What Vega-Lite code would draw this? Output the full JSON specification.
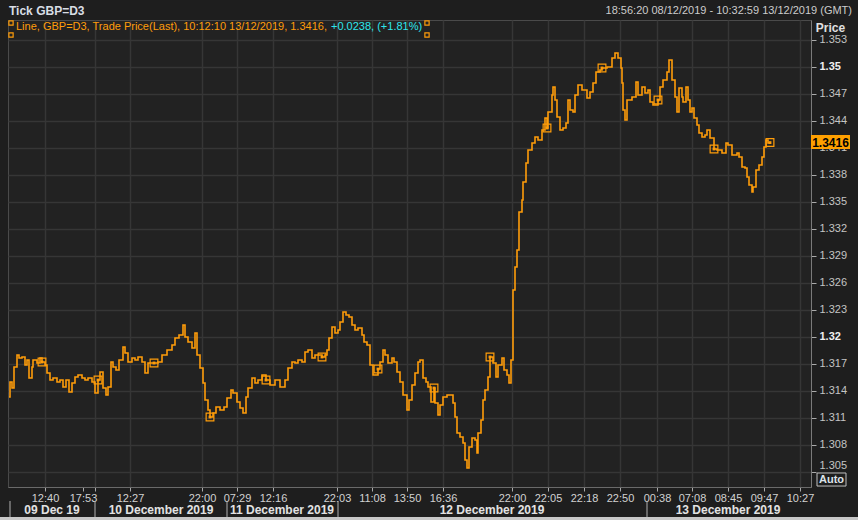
{
  "$schema": "https://vega.github.io/schema/vega-lite/v6.json",
  "width": 803,
  "height": 467,
  "autosize": "none",
  "padding": {"left": 8, "top": 20, "right": 47, "bottom": 33},
  "background": "#1e1e1e",
  "config": {
    "view": {"fill": "#222222", "stroke": "#4a4a4a"},
    "font": "Liberation Sans"
  },
  "datasets": {
    "series": [
      {"x":1,"y":1.31333},{"x":2,"y":1.315},{"x":4,"y":1.31433},{"x":6,"y":1.31667},{"x":9,"y":1.318},{"x":11,"y":1.31767},{"x":14,"y":1.31778},{"x":17,"y":1.31689},{"x":19,"y":1.31744},{"x":21,"y":1.31544},{"x":24,"y":1.31667},{"x":25,"y":1.31744},{"x":29,"y":1.31711},{"x":32,"y":1.31767},{"x":34,"y":1.31722},{"x":37,"y":1.31689},{"x":39,"y":1.316},{"x":42,"y":1.31522},{"x":45,"y":1.31544},{"x":49,"y":1.315},{"x":52,"y":1.31522},{"x":55,"y":1.31444},{"x":58,"y":1.31522},{"x":61,"y":1.31389},{"x":64,"y":1.31489},{"x":67,"y":1.31556},{"x":70,"y":1.31578},{"x":74,"y":1.31544},{"x":77,"y":1.31522},{"x":80,"y":1.31544},{"x":84,"y":1.315},{"x":87,"y":1.31378},{"x":90,"y":1.31522},{"x":92,"y":1.31611},{"x":95,"y":1.31433},{"x":98,"y":1.31356},{"x":100,"y":1.31444},{"x":103,"y":1.31722},{"x":105,"y":1.31667},{"x":108,"y":1.31633},{"x":111,"y":1.31744},{"x":115,"y":1.31889},{"x":117,"y":1.31822},{"x":120,"y":1.31722},{"x":124,"y":1.31767},{"x":127,"y":1.31744},{"x":130,"y":1.31778},{"x":134,"y":1.31722},{"x":137,"y":1.316},{"x":140,"y":1.31711},{"x":146,"y":1.31711},{"x":150,"y":1.31722},{"x":154,"y":1.318},{"x":159,"y":1.31856},{"x":164,"y":1.31911},{"x":167,"y":1.31989},{"x":171,"y":1.32022},{"x":175,"y":1.32133},{"x":177,"y":1.32},{"x":180,"y":1.31944},{"x":184,"y":1.31878},{"x":187,"y":1.32044},{"x":189,"y":1.318},{"x":192,"y":1.31656},{"x":195,"y":1.31489},{"x":197,"y":1.313},{"x":200,"y":1.31189},{"x":202,"y":1.31111},{"x":205,"y":1.31156},{"x":208,"y":1.31222},{"x":212,"y":1.31189},{"x":216,"y":1.31222},{"x":219,"y":1.31322},{"x":223,"y":1.31411},{"x":225,"y":1.31378},{"x":229,"y":1.31278},{"x":232,"y":1.31211},{"x":235,"y":1.31156},{"x":238,"y":1.31333},{"x":240,"y":1.31433},{"x":244,"y":1.31544},{"x":247,"y":1.31489},{"x":250,"y":1.31522},{"x":254,"y":1.31578},{"x":258,"y":1.31522},{"x":262,"y":1.31467},{"x":267,"y":1.31522},{"x":272,"y":1.31444},{"x":277,"y":1.31522},{"x":280,"y":1.31656},{"x":284,"y":1.31722},{"x":287,"y":1.31711},{"x":290,"y":1.31744},{"x":294,"y":1.31722},{"x":297,"y":1.31833},{"x":300,"y":1.31856},{"x":304,"y":1.31767},{"x":307,"y":1.318},{"x":314,"y":1.31778},{"x":317,"y":1.318},{"x":319,"y":1.31856},{"x":321,"y":1.31989},{"x":324,"y":1.32111},{"x":327,"y":1.32044},{"x":330,"y":1.32078},{"x":332,"y":1.32167},{"x":335,"y":1.32278},{"x":338,"y":1.32244},{"x":341,"y":1.32222},{"x":344,"y":1.32133},{"x":347,"y":1.32078},{"x":350,"y":1.321},{"x":354,"y":1.32022},{"x":356,"y":1.31944},{"x":359,"y":1.31911},{"x":362,"y":1.31689},{"x":365,"y":1.31578},{"x":370,"y":1.31644},{"x":372,"y":1.31722},{"x":375,"y":1.31856},{"x":377,"y":1.318},{"x":380,"y":1.31711},{"x":384,"y":1.31767},{"x":386,"y":1.31722},{"x":389,"y":1.31611},{"x":392,"y":1.315},{"x":395,"y":1.31356},{"x":399,"y":1.31189},{"x":401,"y":1.313},{"x":404,"y":1.31467},{"x":407,"y":1.316},{"x":410,"y":1.31722},{"x":412,"y":1.31744},{"x":415,"y":1.31544},{"x":418,"y":1.315},{"x":420,"y":1.31444},{"x":423,"y":1.31278},{"x":426,"y":1.31433},{"x":427,"y":1.31267},{"x":430,"y":1.31133},{"x":432,"y":1.31244},{"x":435,"y":1.31333},{"x":439,"y":1.31356},{"x":442,"y":1.31356},{"x":445,"y":1.31267},{"x":447,"y":1.31111},{"x":449,"y":1.30933},{"x":452,"y":1.30889},{"x":455,"y":1.30822},{"x":457,"y":1.30633},{"x":459,"y":1.30544},{"x":461,"y":1.30778},{"x":464,"y":1.30878},{"x":467,"y":1.30856},{"x":469,"y":1.30711},{"x":470,"y":1.30933},{"x":473,"y":1.31078},{"x":475,"y":1.313},{"x":477,"y":1.31411},{"x":480,"y":1.31556},{"x":482,"y":1.31778},{"x":485,"y":1.31711},{"x":488,"y":1.31556},{"x":490,"y":1.31689},{"x":494,"y":1.31767},{"x":496,"y":1.31633},{"x":499,"y":1.31578},{"x":501,"y":1.31489},{"x":503,"y":1.31744},{"x":505,"y":1.32522},{"x":507,"y":1.32778},{"x":509,"y":1.32967},{"x":511,"y":1.33389},{"x":514,"y":1.33522},{"x":515,"y":1.33722},{"x":518,"y":1.33933},{"x":520,"y":1.34078},{"x":524,"y":1.34156},{"x":527,"y":1.34222},{"x":530,"y":1.34189},{"x":534,"y":1.343},{"x":537,"y":1.34433},{"x":539,"y":1.34322},{"x":540,"y":1.345},{"x":544,"y":1.34689},{"x":545,"y":1.34778},{"x":547,"y":1.34633},{"x":549,"y":1.34444},{"x":552,"y":1.343},{"x":555,"y":1.34322},{"x":558,"y":1.34378},{"x":560,"y":1.34633},{"x":562,"y":1.34522},{"x":565,"y":1.345},{"x":567,"y":1.34689},{"x":570,"y":1.348},{"x":574,"y":1.34744},{"x":577,"y":1.34744},{"x":579,"y":1.34656},{"x":582,"y":1.34722},{"x":585,"y":1.34822},{"x":588,"y":1.34944},{"x":592,"y":1.34967},{"x":594,"y":1.34989},{"x":599,"y":1.35},{"x":604,"y":1.351},{"x":607,"y":1.35156},{"x":610,"y":1.351},{"x":613,"y":1.34989},{"x":614,"y":1.34822},{"x":615,"y":1.34522},{"x":617,"y":1.34411},{"x":619,"y":1.34633},{"x":624,"y":1.34667},{"x":628,"y":1.34833},{"x":630,"y":1.34689},{"x":634,"y":1.34778},{"x":637,"y":1.34711},{"x":640,"y":1.34744},{"x":642,"y":1.34611},{"x":645,"y":1.34578},{"x":650,"y":1.34633},{"x":652,"y":1.34778},{"x":655,"y":1.34856},{"x":659,"y":1.34944},{"x":661,"y":1.35078},{"x":664,"y":1.34856},{"x":667,"y":1.34667},{"x":669,"y":1.345},{"x":671,"y":1.34767},{"x":674,"y":1.34667},{"x":675,"y":1.34611},{"x":678,"y":1.34778},{"x":680,"y":1.34633},{"x":682,"y":1.345},{"x":684,"y":1.34544},{"x":686,"y":1.34433},{"x":689,"y":1.34356},{"x":691,"y":1.34267},{"x":694,"y":1.34222},{"x":697,"y":1.34244},{"x":699,"y":1.343},{"x":702,"y":1.34211},{"x":706,"y":1.34089},{"x":709,"y":1.34078},{"x":714,"y":1.34044},{"x":718,"y":1.34156},{"x":720,"y":1.34133},{"x":724,"y":1.34022},{"x":729,"y":1.34044},{"x":731,"y":1.34},{"x":734,"y":1.33889},{"x":737,"y":1.33878},{"x":739,"y":1.33778},{"x":741,"y":1.33689},{"x":744,"y":1.33611},{"x":745,"y":1.33667},{"x":748,"y":1.33856},{"x":751,"y":1.33911},{"x":754,"y":1.34},{"x":756,"y":1.34111},{"x":758,"y":1.34189},{"x":760,"y":1.34156},{"x":762,"y":1.3416}
    ],
    "markers": [
      {"x":34,"y":1.31722},{"x":90,"y":1.31522},{"x":146,"y":1.31711},{"x":202,"y":1.31111},{"x":258,"y":1.31522},{"x":314,"y":1.31778},{"x":370,"y":1.31644},{"x":426,"y":1.31433},{"x":482,"y":1.31778},{"x":539,"y":1.34322},{"x":594,"y":1.34989},{"x":650,"y":1.34633},{"x":706,"y":1.34089},{"x":762,"y":1.3416}
    ],
    "days": [
      {"x":44,"y":1.30078,"label":"09 Dec 19"},
      {"x":153,"y":1.30078,"label":"10 December 2019"},
      {"x":274,"y":1.30078,"label":"11 December 2019"},
      {"x":484,"y":1.30078,"label":"12 December 2019"},
      {"x":720,"y":1.30078,"label":"13 December 2019"}
    ],
    "seps": [
      {"x":2,"y":1.30178,"y2":1.3},{"x":87,"y":1.30178,"y2":1.3},{"x":219,"y":1.30178,"y2":1.3},{"x":330,"y":1.30178,"y2":1.3},{"x":639,"y":1.30178,"y2":1.3}
    ],
    "header": [{"x":1,"y":1.35622,"label":"Tick GBP=D3"}],
    "range": [{"x":844,"y":1.35622,"label":"18:56:20 08/12/2019 - 10:32:59 13/12/2019 (GMT)"}],
    "legend1": [{"x":8,"y":1.35444,"label":"Line, GBP=D3, Trade Price(Last),  10:12:10 13/12/2019,  1.3416, "}],
    "legend2": [{"x":323,"y":1.35444,"label":"+0.0238,  (+1.81%)"}],
    "corners": [{"x":3,"y":1.35489},{"x":3,"y":1.35356},{"x":419,"y":1.35489},{"x":419,"y":1.35356}],
    "lastbox": [{"x":803,"x2":842,"y":1.34244,"y2":1.34089}],
    "lastlabel": [{"x":822.5,"y":1.3416,"label":"1.3416"}],
    "autobox": [{"x":809,"x2":838,"y":1.30489,"y2":1.30344}],
    "autolabel": [{"x":823.5,"y":1.30414,"label":"Auto"}],
    "scroll": [{"x":-8,"x2":850,"y":1.3,"y2":1.29967}]
  },
  "encoding": {
    "x": {
      "field": "x", "type": "quantitative",
      "scale": {"domain": [0, 803], "nice": false, "zero": false},
      "axis": {
        "title": null,
        "values": [37,75,87,122,194,229,265,329,364,399,435,504,540,576,612,649,684,720,756,792],
        "labelExpr": "{'37':'12:40','75':'17:53','87':'','122':'12:27','194':'22:00','229':'07:29','265':'12:16','329':'22:03','364':'11:08','399':'13:50','435':'16:36','504':'22:00','540':'22:05','576':'22:18','612':'22:50','649':'00:38','684':'07:08','720':'08:45','756':'09:47','792':'10:27'}[datum.value]",
        "labelOverlap": false,
        "labelFlush": false,
        "labelColor": "#d2d2d2",
        "labelFont": "Liberation Sans",
        "labelFontSize": 11,
        "labelPadding": 1,
        "tickColor": "#aaaaaa",
        "tickSize": 4,
        "domainColor": "#6a6a6a",
        "grid": true,
        "gridColor": {"condition": {"test": "datum.value == 75", "value": "rgba(0,0,0,0)"}, "value": "#363636"},
        "gridWidth": 1.5
      }
    },
    "y": {
      "field": "y", "type": "quantitative",
      "scale": {"domain": [1.303333, 1.355222], "nice": false, "zero": false},
      "axis": {
        "orient": "right",
        "title": "Price",
        "titleAngle": 0,
        "titleAlign": "center",
        "titleBaseline": "middle",
        "titleX": 19,
        "titleY": 7,
        "titleColor": "#e0e0e0",
        "titleFont": "Liberation Sans",
        "titleFontSize": 12,
        "titleFontWeight": "bold",
        "values": [1.305,1.308,1.311,1.314,1.317,1.32,1.323,1.326,1.329,1.332,1.335,1.338,1.341,1.344,1.347,1.35,1.353],
        "format": ".3~f",
        "labelColor": {"condition": {"test": "abs(datum.value-1.32)<0.0001 || abs(datum.value-1.35)<0.0001", "value": "#f0f0f0"}, "value": "#c4c4c4"},
        "labelFontWeight": {"condition": {"test": "abs(datum.value-1.32)<0.0001 || abs(datum.value-1.35)<0.0001", "value": "bold"}, "value": "normal"},
        "labelOffset": {"condition": {"test": "abs(datum.value-1.305)<0.0001", "value": -6}, "value": 0},
        "labelFont": "Liberation Sans",
        "labelFontSize": 11,
        "labelPadding": 3,
        "tickColor": "#aaaaaa",
        "tickSize": 5,
        "domainColor": "#7a7a7a",
        "grid": true,
        "gridColor": "#363636",
        "gridWidth": 1.5
      }
    }
  },
  "layer": [
    {"data": {"name": "series"}, "mark": {"type": "line", "color": "#ff9d0a", "strokeWidth": 1.6, "interpolate": "step-after", "clip": true}},
    {"data": {"name": "markers"}, "mark": {"type": "point", "shape": "square", "filled": false, "color": "#ff9d0a", "size": 60, "strokeWidth": 1.2, "opacity": 1}},
    {"data": {"name": "markers"}, "mark": {"type": "point", "shape": "square", "filled": true, "color": "#ff9d0a", "size": 8, "opacity": 1}},
    {"data": {"name": "seps"}, "mark": {"type": "rule", "color": "#b0b0b0", "strokeWidth": 1, "clip": false}, "encoding": {"y2": {"field": "y2"}}},
    {"data": {"name": "days"}, "mark": {"type": "text", "color": "#e2e2e2", "font": "Liberation Sans", "fontSize": 12, "fontWeight": "bold", "align": "center", "baseline": "middle", "clip": false}, "encoding": {"text": {"field": "label"}}},
    {"data": {"name": "header"}, "mark": {"type": "text", "color": "#d8dde4", "font": "Liberation Sans", "fontSize": 12, "fontWeight": "bold", "align": "left", "baseline": "middle", "clip": false}, "encoding": {"text": {"field": "label"}}},
    {"data": {"name": "range"}, "mark": {"type": "text", "color": "#cccccc", "font": "Liberation Sans", "fontSize": 11, "align": "right", "baseline": "middle", "clip": false}, "encoding": {"text": {"field": "label"}}},
    {"data": {"name": "legend1"}, "mark": {"type": "text", "color": "#ff9d0a", "font": "Liberation Sans", "fontSize": 11, "align": "left", "baseline": "middle", "clip": false}, "encoding": {"text": {"field": "label"}}},
    {"data": {"name": "legend2"}, "mark": {"type": "text", "color": "#2ee6ec", "font": "Liberation Sans", "fontSize": 11, "align": "left", "baseline": "middle", "clip": false}, "encoding": {"text": {"field": "label"}}},
    {"data": {"name": "corners"}, "mark": {"type": "point", "shape": "square", "filled": false, "color": "#ff9d0a", "size": 18, "strokeWidth": 1.2, "opacity": 1, "clip": false}},
    {"data": {"name": "lastbox"}, "mark": {"type": "rect", "color": "#ffa000", "clip": false}, "encoding": {"x2": {"field": "x2"}, "y2": {"field": "y2"}}},
    {"data": {"name": "lastlabel"}, "mark": {"type": "text", "color": "#000000", "font": "Liberation Sans", "fontSize": 12, "fontWeight": "bold", "align": "center", "baseline": "middle", "clip": false}, "encoding": {"text": {"field": "label"}}},
    {"data": {"name": "autobox"}, "mark": {"type": "rect", "fill": "#1e1e1e", "stroke": "#c0c0c0", "strokeWidth": 1, "clip": false}, "encoding": {"x2": {"field": "x2"}, "y2": {"field": "y2"}}},
    {"data": {"name": "autolabel"}, "mark": {"type": "text", "color": "#dde3ea", "font": "Liberation Sans", "fontSize": 11, "fontWeight": "bold", "align": "center", "baseline": "middle", "clip": false}, "encoding": {"text": {"field": "label"}}},
    {"data": {"name": "scroll"}, "mark": {"type": "rect", "color": "#c8c8c8", "clip": false}, "encoding": {"x2": {"field": "x2"}, "y2": {"field": "y2"}}}
  ]
}
